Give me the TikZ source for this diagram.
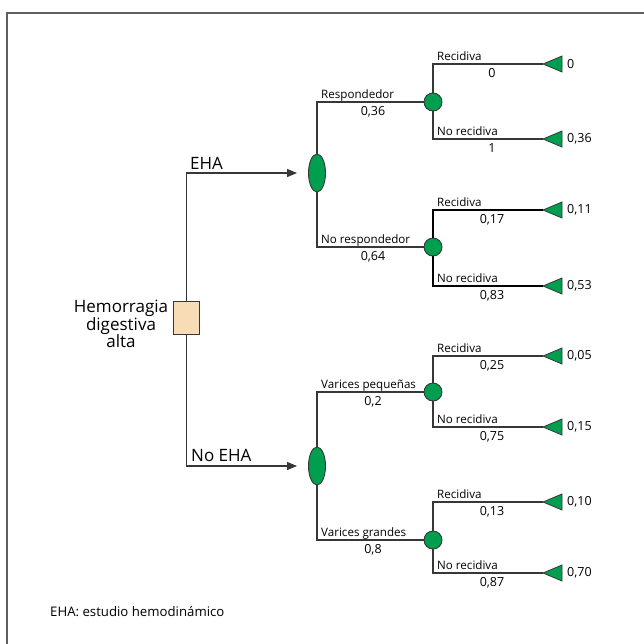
\documentclass[tikz,border=0pt]{standalone}
\usepackage{fontspec}
\setmainfont{Open Sans}
\usetikzlibrary{arrows.meta,shapes.geometric}
\definecolor{dgreen}{RGB}{0,158,79}
\definecolor{peach}{RGB}{247,220,182}
\definecolor{framegray}{RGB}{95,95,95}
\definecolor{linegray}{RGB}{55,55,55}
\newcommand\termtri[4]{% name, x, y, value
  \coordinate (#1) at (#2,#3);
  \filldraw[fill=dgreen,draw=linegray,line width=0.8pt] (#1) -- ++(19,-8) -- ++(0,16) -- cycle;
  \node[num,anchor=west] (#1v) at (#2+24,#3) {#4};
}
\begin{document}
\begin{tikzpicture}[x=1pt,y=-1pt,
  conn/.style={draw=linegray,line width=1.1pt},
  connb/.style={draw=black,line width=1.6pt},
  chance/.style={circle,draw=linegray,fill=dgreen,line width=0.9pt,minimum size=18pt,inner sep=0pt},
  chanceE/.style={ellipse,draw=linegray,fill=dgreen,line width=0.9pt,minimum width=17pt,minimum height=38pt,inner sep=0pt},
  decision/.style={rectangle,draw=linegray,fill=peach,line width=0.9pt,minimum width=26pt,minimum height=33pt,inner sep=0pt},
  small/.style={font=\fontsize{11.6}{13}\selectfont,inner sep=0pt},
  num/.style={font=\fontsize{12.5}{14}\selectfont,inner sep=0pt},
  big/.style={font=\fontsize{17}{17.5}\selectfont,inner sep=0pt},
  foot/.style={font=\fontsize{13.2}{15}\selectfont,inner sep=0pt}]
\useasboundingbox (0,0) rectangle (644,643);
% frame
\draw[framegray,line width=1.4pt] (7,650) -- (7,13) -- (650,13);

% nodes
\node[decision] (root) at (186.5,317.5) {};
\node[big,align=center,anchor=center] (roottxt) at (121,324) {Hemorragia\\digestiva\\alta};
\node[chanceE] (e1) at (317,173) {};
\node[chanceE] (e2) at (317,466) {};
\node[chance] (c1) at (433,102) {};
\node[chance] (c2) at (433,247) {};
\node[chance] (c3) at (433,392) {};
\node[chance] (c4) at (433,540) {};

\termtri{t1}{543}{64}{0}
\termtri{t2}{543}{139}{0,36}
\termtri{t3}{543}{210}{0,11}
\termtri{t4}{543}{286}{0,53}
\termtri{t5}{543}{356}{0,05}
\termtri{t6}{543}{427}{0,15}
\termtri{t7}{543}{502}{0,10}
\termtri{t8}{543}{573}{0,70}

% root branches
\draw[conn,-{Triangle[length=10pt,width=8pt]},shorten >=11pt] (root.north) |- (e1.west);
\draw[conn,-{Triangle[length=10pt,width=8pt]},shorten >=11pt] (root.south) |- (e2.west);
\node[big,anchor=base west] (lEHA) at (190,169) {EHA};
\node[big,anchor=base west] (lNoEHA) at (191,461) {No EHA};

% second level
\draw[conn] (e1.north) |- (c1.west);
\draw[conn] (e1.south) |- (c2.west);
\draw[conn] (e2.north) |- (c3.west);
\draw[conn] (e2.south) |- (c4.west);
\node[small,anchor=base west] (l1) at (321,98.5) {Respondedor};
\node[num,anchor=north] (p1) at (373,106) {0,36};
\node[small,anchor=base west] (l2) at (321,243.5) {No respondedor};
\node[num,anchor=north] (p2) at (373,251) {0,64};
\node[small,anchor=base west] (l3) at (321,388.5) {Varices pequeñas};
\node[num,anchor=north] (p3) at (373,396) {0,2};
\node[small,anchor=base west] (l4) at (321,536.5) {Varices grandes};
\node[num,anchor=north] (p4) at (373,544) {0,8};

% third level
\draw[conn] (c1.north) |- (t1);
\draw[conn] (c1.south) |- (t2);
\draw[connb] (c2.north) |- (t3);
\draw[connb] (c2.south) |- (t4);
\draw[conn] (c3.north) |- (t5);
\draw[conn] (c3.south) |- (t6);
\draw[conn] (c4.north) |- (t7);
\draw[conn] (c4.south) |- (t8);

\node[small,anchor=base west] (r1) at (437,60.5) {Recidiva};
\node[num,anchor=north] (q1) at (492,68) {0};
\node[small,anchor=base west] (r2) at (437,135.5) {No recidiva};
\node[num,anchor=north] (q2) at (492,143) {1};
\node[small,anchor=base west] (r3) at (437,206.5) {Recidiva};
\node[num,anchor=north] (q3) at (492,214) {0,17};
\node[small,anchor=base west] (r4) at (437,282.5) {No recidiva};
\node[num,anchor=north] (q4) at (492,290) {0,83};
\node[small,anchor=base west] (r5) at (437,352.5) {Recidiva};
\node[num,anchor=north] (q5) at (492,360) {0,25};
\node[small,anchor=base west] (r6) at (437,423.5) {No recidiva};
\node[num,anchor=north] (q6) at (492,431) {0,75};
\node[small,anchor=base west] (r7) at (437,498.5) {Recidiva};
\node[num,anchor=north] (q7) at (492,506) {0,13};
\node[small,anchor=base west] (r8) at (437,569.5) {No recidiva};
\node[num,anchor=north] (q8) at (492,577) {0,87};

% footer
\node[foot,anchor=base west] (footer) at (50,616) {EHA: estudio hemodinámico};
\end{tikzpicture}
\end{document}
